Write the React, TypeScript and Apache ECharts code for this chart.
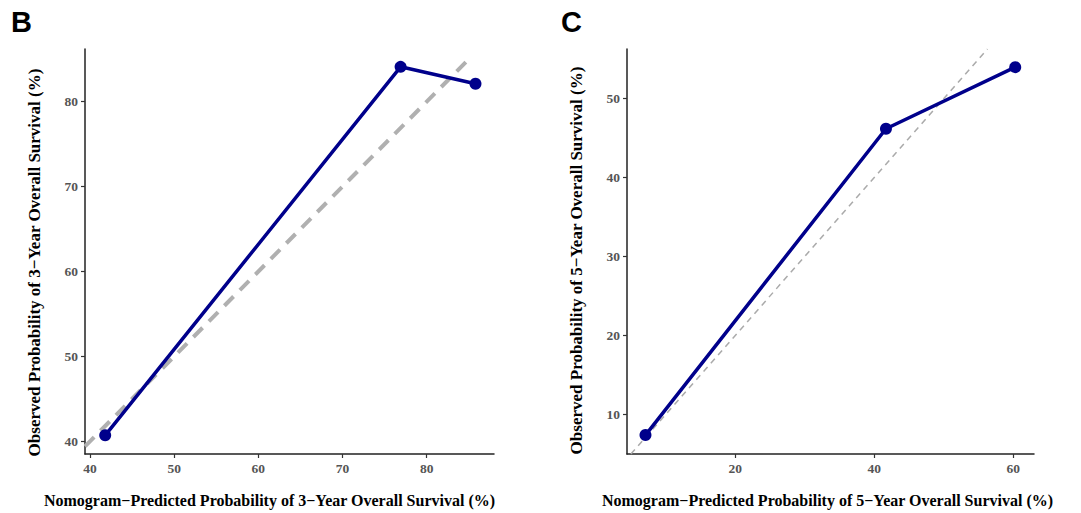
import React, { useEffect, useRef } from "react";
import * as echarts from "echarts";

// Panel B: 3-year calibration
const predicted3 = [41.8, 76.9, 85.8];
const observed3 = [40.7, 84.1, 82.1];
const diag3 = [39.4, 85.3];
const ticksX3 = [40, 50, 60, 70, 80];
const ticksY3 = [40, 50, 60, 70, 80];

// Panel C: 5-year calibration
const predicted5 = [7.1, 41.7, 60.3];
const observed5 = [7.4, 46.2, 54.0];
const diag5 = [5.0, 56.3];
const ticksX5 = [20, 40, 60];
const ticksY5 = [10, 20, 30, 40, 50];

const xTitle3 = "Nomogram\u2212Predicted Probability of 3\u2212Year Overall Survival (%)";
const yTitle3 = "Observed Probability of 3\u2212Year Overall Survival (%)";
const xTitle5 = "Nomogram\u2212Predicted Probability of 5\u2212Year Overall Survival (%)";
const yTitle5 = "Observed Probability of 5\u2212Year Overall Survival (%)";

const SERIF = "'Liberation Serif', 'Times New Roman', serif";
const NAVY = "#00008B";

function axis(
  gridIndex: number,
  min: number,
  max: number,
  ticks: number[],
  name: string,
  isY: boolean,
  namePadding: number[]
) {
  return {
    type: "value",
    gridIndex,
    min,
    max,
    name,
    nameLocation: "middle",
    nameGap: isY ? 42 : 38,
    nameTextStyle: {
      fontFamily: SERIF,
      fontWeight: "bold",
      fontSize: isY ? 17 : 16,
      color: "#000",
      padding: namePadding,
    },
    axisLine: { show: true, onZero: false, lineStyle: { color: "#222", width: 1.5 } },
    axisTick: { show: true, length: 4, customValues: ticks, lineStyle: { color: "#333", width: 1.2 } },
    axisLabel: {
      customValues: ticks,
      margin: 7,
      fontFamily: SERIF,
      fontWeight: "bold",
      fontSize: 13.5,
      color: "#555",
    },
    splitLine: { show: false },
  };
}

export default function App() {
  const ref = useRef<HTMLDivElement>(null);
  useEffect(() => {
    if (!ref.current) return;
    const chart = echarts.init(ref.current, null, { renderer: "svg" });
    const pts3 = predicted3.map((x, i) => [x, observed3[i]]);
    const pts5 = predicted5.map((x, i) => [x, observed5[i]]);
    chart.setOption({
      animation: false,
      backgroundColor: "#fff",
      grid: [
        { left: 85, top: 49, width: 409, height: 408 },
        { left: 627, top: 49, width: 407, height: 409 },
      ],
      xAxis: [
        axis(0, 39.4, 88.0, ticksX3, xTitle3, false, [0, 40, 0, 0]),
        axis(1, 4.44, 63.0, ticksX5, xTitle5, false, [0, 6, 0, 0]),
      ],
      yAxis: [
        axis(0, 38.5, 86.2, ticksY3, yTitle3, true, [0, 22, 0, 0]),
        axis(1, 5.0, 56.3, ticksY5, yTitle5, true, [0, 18, 0, 0]),
      ],
      series: [
        {
          type: "line",
          xAxisIndex: 0,
          yAxisIndex: 0,
          data: diag3.map((v) => [v, v]),
          symbol: "none",
          lineStyle: { color: "#B0B0B0", width: 4, type: [13, 9] },
          z: 1,
        },
        {
          type: "line",
          xAxisIndex: 0,
          yAxisIndex: 0,
          data: pts3,
          symbol: "circle",
          symbolSize: 12,
          itemStyle: { color: NAVY },
          lineStyle: { color: NAVY, width: 3.5 },
          z: 2,
        },
        {
          type: "line",
          xAxisIndex: 1,
          yAxisIndex: 1,
          data: diag5.map((v) => [v, v]),
          symbol: "none",
          lineStyle: { color: "#AAAAAA", width: 1.5, type: [6, 5] },
          z: 1,
        },
        {
          type: "line",
          xAxisIndex: 1,
          yAxisIndex: 1,
          data: pts5,
          symbol: "circle",
          symbolSize: 12,
          itemStyle: { color: NAVY },
          lineStyle: { color: NAVY, width: 3.5 },
          z: 2,
        },
      ],
      graphic: [
        {
          type: "text",
          left: 11,
          top: 7,
          style: { text: "B", fontFamily: "'Liberation Sans', Arial, sans-serif", fontWeight: "bold", fontSize: 29, fill: "#000" },
        },
        {
          type: "text",
          left: 561,
          top: 7,
          style: { text: "C", fontFamily: "'Liberation Sans', Arial, sans-serif", fontWeight: "bold", fontSize: 29, fill: "#000" },
        },
      ],
    });
    return () => chart.dispose();
  }, []);
  return (
    <div
      ref={ref}
      style={{ position: "absolute", left: 0, top: 0, width: 1081, height: 513, background: "#fff" }}
    />
  );
}
